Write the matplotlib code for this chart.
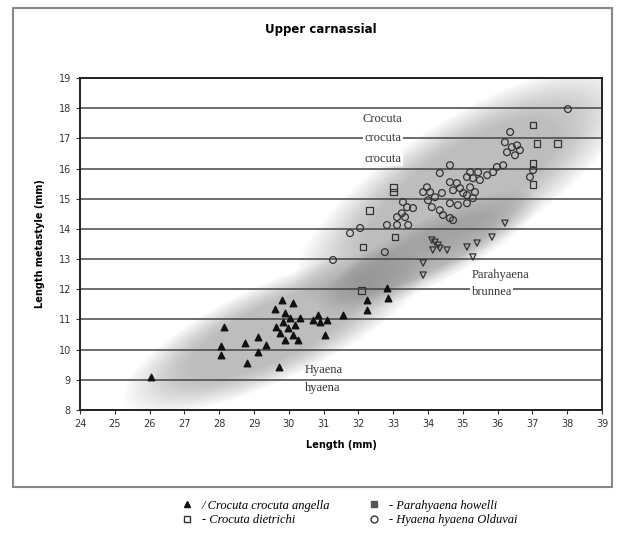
import numpy as np
import matplotlib
matplotlib.use("Agg")
import matplotlib.pyplot as plt
from matplotlib.patches import Polygon, Rectangle
from matplotlib.lines import Line2D

# ---------------- data ----------------
x_ticks = list(range(24, 40))
y_ticks = list(range(8, 20))

# Hyaena hyaena cluster (black triangles)
hy_x = [26.04, 28.14, 28.05, 28.05, 28.74, 28.80, 29.11, 29.11, 29.34, 29.72,
        29.80, 30.12, 29.60, 29.89, 30.03, 29.83, 30.18, 29.98, 29.75, 30.12,
        30.26, 29.89, 29.63, 30.32, 30.70, 30.90, 31.10, 30.84, 31.04, 31.56,
        32.25, 32.25, 32.82, 32.85]
hy_y = [9.09, 10.75, 10.12, 9.82, 10.22, 9.56, 10.42, 9.92, 10.15, 9.42,
        11.64, 11.54, 11.34, 11.21, 11.05, 10.91, 10.81, 10.72, 10.55, 10.48,
        10.32, 10.32, 10.75, 11.05, 10.98, 10.91, 10.98, 11.15, 10.48, 11.15,
        11.64, 11.31, 12.04, 11.71]

# Crocuta crocuta crocuta cluster (open circles)
cr_x = [38.02, 36.36, 36.21, 36.41, 36.56, 36.27, 36.50, 36.64, 37.02, 36.93,
        36.16, 35.98, 35.87, 34.63, 34.34, 35.21, 35.44, 35.70, 35.49, 35.29,
        35.12, 34.83, 34.63, 34.92, 34.72, 35.01, 33.97, 34.06, 33.86, 34.20,
        34.40, 35.21, 35.35, 35.12, 35.29, 35.12, 34.86, 34.63, 34.00, 34.11,
        34.34, 34.43, 34.63, 34.72, 33.28, 33.40, 33.57, 33.25, 33.34, 33.11,
        33.43, 32.82, 33.11, 31.76, 32.05, 32.76, 31.27]
cr_y = [17.97, 17.21, 16.87, 16.71, 16.77, 16.54, 16.44, 16.61, 15.95, 15.72,
        16.11, 16.05, 15.88, 16.11, 15.85, 15.88, 15.88, 15.78, 15.62, 15.68,
        15.72, 15.52, 15.55, 15.35, 15.28, 15.19, 15.38, 15.22, 15.22, 15.05,
        15.19, 15.38, 15.22, 15.12, 15.02, 14.85, 14.79, 14.85, 14.95, 14.72,
        14.62, 14.46, 14.36, 14.29, 14.89, 14.72, 14.69, 14.52, 14.39, 14.39,
        14.13, 14.13, 14.13, 13.86, 14.03, 13.23, 12.97]

# Crocuta dietrichi (open squares)
cd_x = [32.10, 33.00, 33.00, 37.02, 37.13, 37.71, 37.02, 37.02, 32.33, 32.13, 33.05]
cd_y = [11.97, 15.38, 15.22, 17.44, 16.84, 16.84, 16.18, 15.48, 14.62, 13.40, 13.73]

# Parahyaena cluster
pb_x = [34.11, 34.20, 34.29, 34.34, 34.55, 34.14, 33.86, 33.86, 35.12, 35.41,
        35.29, 35.84, 36.21]
pb_y = [13.63, 13.56, 13.46, 13.36, 13.30, 13.30, 12.87, 12.47, 13.40, 13.53,
        13.07, 13.73, 14.19]

legend_labels = ["/ Crocuta crocuta angella", "- Crocuta dietrichi",
                 "- Parahyaena howelli", "- Hyaena hyaena Olduvai"]

# ---------------- figure ----------------
fig = plt.figure(figsize=(6.23, 5.40), dpi=100)
ax = fig.add_axes([80/623, 130/540, 522/623, 332/540])
ax.set_xlim(24, 39)
ax.set_ylim(8, 19)

sx = 522/15.0  # px per x unit
sy = 332/11.0  # px per y unit


def soft_ellipse(cx, cy, a, b, ang, color="#7a7a7a", n=24, alpha=0.022, z=0):
    t = np.linspace(0, 2*np.pi, 240)
    th = np.deg2rad(ang)
    for k in range(n):
        s = 1.0 - 0.45*k/n
        ex = a*s*np.cos(t)
        ey = b*s*np.sin(t)
        px = ex*np.cos(th) - ey*np.sin(th)
        py = ex*np.sin(th) + ey*np.cos(th)
        pts = np.column_stack([cx + px/sx, cy + py/sy])
        ax.add_patch(Polygon(pts, closed=True, facecolor=color, edgecolor="none",
                             alpha=alpha, zorder=z))

# shaded regions
soft_ellipse(35.0, 15.4, 195, 66, 33)
soft_ellipse(34.0, 13.2, 125, 32, 27, alpha=0.016)
soft_ellipse(29.6, 10.6, 165, 48, 25)

for yv in y_ticks:
    ax.axhline(yv, color="#444444", lw=1.1, zorder=1)

ax.scatter(hy_x, hy_y, marker="^", s=22, color="#111111", zorder=4)
ax.scatter(cr_x, cr_y, marker="o", s=24, facecolor="none", edgecolor="#333333",
           linewidth=0.9, zorder=4)
ax.scatter(cd_x, cd_y, marker="s", s=24, facecolor="none", edgecolor="#333333",
           linewidth=0.9, zorder=4)
ax.scatter(pb_x, pb_y, marker="v", s=20, facecolor="none", edgecolor="#333333",
           linewidth=0.9, zorder=4)

ax.set_xticks(x_ticks)
ax.set_yticks(y_ticks)
ax.tick_params(labelsize=7, colors="#333333", length=3, width=0.8)
for s in ax.spines.values():
    s.set_linewidth(1.4)
    s.set_color("#222222")

ax.set_xlabel("Length (mm)", fontsize=7, fontweight="bold", labelpad=8)
ax.set_ylabel("Length metastyle (mm)", fontsize=7, fontweight="bold", labelpad=10)
fig.text(0.515, 0.945, "Upper carnassial", ha="center", va="center",
         fontsize=8.5, fontweight="bold")

tkw = dict(family="Liberation Serif", fontsize=9, color="#333333", zorder=5,
           bbox=dict(facecolor="white", edgecolor="none", pad=1))
ax.text(32.7, 17.65, "Crocuta", ha="center", va="center", **tkw)
ax.text(32.7, 17.0, "crocuta", ha="center", va="center", **tkw)
ax.text(32.7, 16.33, "crocuta", ha="center", va="center", **tkw)
ax.text(35.25, 12.47, "Parahyaena", ha="left", va="center",
        family="Liberation Serif", fontsize=9, color="#333333", zorder=5)
ax.text(35.25, 11.9, "brunnea", ha="left", va="center", **tkw)
ax.text(30.45, 9.32, "Hyaena", ha="left", va="center",
        family="Liberation Serif", fontsize=9, color="#333333", zorder=5)
ax.text(30.45, 8.73, "hyaena", ha="left", va="center",
        family="Liberation Serif", fontsize=9, color="#333333", zorder=5)

# outer frame
fig.patches.append(Rectangle((13/623, 53/540), 599/623, 479/540, transform=fig.transFigure,
                             fill=False, edgecolor="#888888", lw=1.5))

handles = [Line2D([], [], marker="^", ls="none", color="#111111", markersize=5),
           Line2D([], [], marker="s", ls="none", mfc="none", mec="#333333", markersize=5),
           Line2D([], [], marker="s", ls="none", color="#555555", markersize=5),
           Line2D([], [], marker="o", ls="none", mfc="none", mec="#333333", markersize=5)]
fig.legend(handles, legend_labels, loc="center", bbox_to_anchor=(0.555, 0.05),
           ncol=2, frameon=False, handletextpad=0.2, columnspacing=2.5,
           labelspacing=0.2, prop=dict(family="Liberation Serif", style="italic", size=9))

fig.savefig("out.png", dpi=100)
